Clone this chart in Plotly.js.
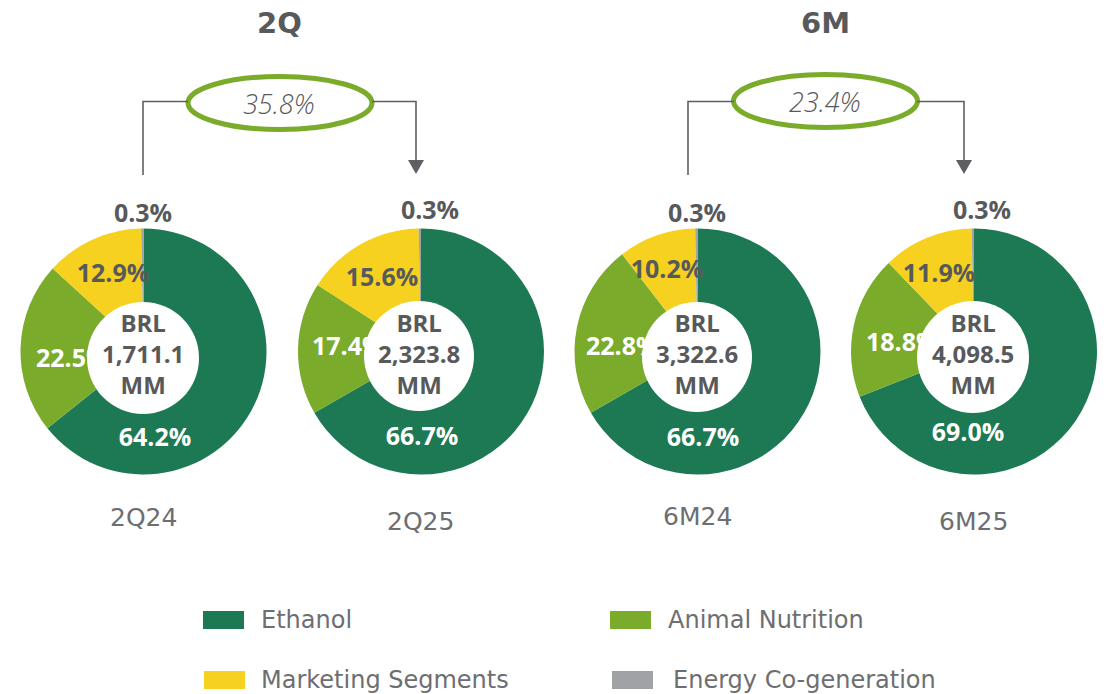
<!DOCTYPE html>
<html>
<head>
<meta charset="utf-8">
<script src="https://cdn.plot.ly/plotly-3.0.1.min.js"></script>
<style>
  html, body { margin: 0; padding: 0; background: #ffffff; }
  #chart { width: 1111px; height: 694px; }
</style>
</head>
<body>
<div id="chart"></div>
<script>
// ---------------- DATA ----------------
const categories = ['Ethanol', 'Animal Nutrition', 'Marketing Segments', 'Energy Co-generation'];
const periods = ['2Q24', '2Q25', '6M24', '6M25'];
const ethanolPct = [64.2, 66.7, 66.7, 69.0];
const animalNutritionPct = [22.5, 17.4, 22.8, 18.8];
const marketingPct = [12.9, 15.6, 10.2, 11.9];
const energyPct = [0.3, 0.3, 0.3, 0.3];
const totalsBRLmm = [1711.1, 2323.8, 3322.6, 4098.5];
const groupTitles = ['2Q', '6M'];
const growthPct = [35.8, 23.4];

// ---------------- STYLE / LAYOUT CONFIG ----------------
const W = 1111, H = 694;
const colors = ['#1d7954', '#7aab2b', '#f6d11f', '#a0a2a5'];
const labelColors = ['#ffffff', '#ffffff', '#58595b', '#58595b'];
const textGray = '#58595b';
const lightGray = '#6d6e71';
const BOLDFONT = '"Open Sans", "Noto Sans", sans-serif';
const REGFONT = '"DejaVu Sans", "Open Sans", sans-serif';

const px = x => x / W;
const py = y => 1 - y / H;

const donutCenters = [[143.5, 351.5], [421, 351.5], [697.5, 351.5], [974, 351.5]];
const donutR = 123;
const discs = [[143, 358, 56], [419, 356, 55], [697, 357, 55], [973, 357, 56]];
// label anchor per donut per category: [x, y, align]
const labelPos = [
  [[155, 436, 'center'], [36, 357, 'left'], [113, 272, 'center'], [143, 212, 'center']],
  [[422, 435, 'center'], [312, 345, 'left'], [382, 276, 'center'], [430, 209, 'center']],
  [[703, 436, 'center'], [586, 345, 'left'], [667, 268, 'center'], [697, 212, 'center']],
  [[968, 431, 'center'], [866, 341, 'left'], [939, 272, 'center'], [982, 209, 'center']]
];
const centerTextY = 353;
const periodLabelPos = [[143, 517], [420, 521], [697, 516], [973, 521]];
const titlePos = [[279, 23], [825, 23]];
const ovals = [[280, 103, 184, 53], [825.5, 101, 184, 53]];
// connectors: [leftX, bottomY, ovalLeftX, ovalRightX, rightX, lineY, arrowTopY, arrowTipY]
const connectors = [
  [143, 175, 188, 372, 416, 101.5, 160, 174],
  [688, 175, 734, 917, 964, 101.5, 160, 174]
];
const legendPos = [[203, 620], [610, 620], [204, 680], [612, 680]];
const legendTextX = [259, 666, 259, 671];

// ---------------- TRACES ----------------
const seriesByCat = [ethanolPct, animalNutritionPct, marketingPct, energyPct];
const traces = [];

periods.forEach((p, i) => {
  const [cx, cy] = donutCenters[i];
  traces.push({
    type: 'pie',
    labels: categories,
    values: seriesByCat.map(s => s[i]),
    marker: { colors: colors, line: { width: 0 } },
    sort: false,
    direction: 'clockwise',
    rotation: 0,
    textinfo: 'none',
    hoverinfo: 'skip',
    showlegend: false,
    domain: { x: [px(cx - donutR), px(cx + donutR)], y: [py(cy + donutR), py(cy - donutR)] }
  });
});

// percentage labels (indicator numbers sit between pie layer and the white centre discs)
periods.forEach((p, i) => {
  seriesByCat.forEach((s, k) => {
    const [lx, ly, al] = labelPos[i][k];
    const x0 = al === 'left' ? lx : lx - 60;
    const x1 = al === 'left' ? lx + 120 : lx + 60;
    traces.push({
      type: 'indicator',
      mode: 'number',
      value: s[i],
      align: al,
      number: {
        suffix: '%',
        valueformat: '.1f',
        font: { family: BOLDFONT, size: 25, color: labelColors[k], weight: 'bold' }
      },
      domain: { x: [px(x0), px(x1)], y: [py(ly + 16), py(ly - 16)] }
    });
  });
});

// ---------------- SHAPES ----------------
const shapes = [];
discs.forEach(([cx, cy, r]) => {
  shapes.push({
    type: 'circle', xref: 'paper', yref: 'paper', layer: 'above',
    x0: px(cx - r), x1: px(cx + r), y0: py(cy + r), y1: py(cy - r),
    fillcolor: '#ffffff', line: { width: 0 }
  });
});
ovals.forEach(([cx, cy, w, h]) => {
  shapes.push({
    type: 'circle', xref: 'paper', yref: 'paper', layer: 'above',
    x0: px(cx - w / 2), x1: px(cx + w / 2), y0: py(cy + h / 2), y1: py(cy - h / 2),
    fillcolor: 'rgba(0,0,0,0)', line: { color: '#7aab2b', width: 5 }
  });
});
connectors.forEach(([lx, by, oL, oR, rx, ly, aTop, aTip]) => {
  shapes.push({
    type: 'path', xref: 'paper', yref: 'paper', layer: 'above',
    path: `M${px(lx)},${py(by)} L${px(lx)},${py(ly)} L${px(oL)},${py(ly)}`,
    line: { color: '#5d5f62', width: 1.6 }
  });
  shapes.push({
    type: 'path', xref: 'paper', yref: 'paper', layer: 'above',
    path: `M${px(oR)},${py(ly)} L${px(rx)},${py(ly)} L${px(rx)},${py(aTop)}`,
    line: { color: '#5d5f62', width: 1.6 }
  });
  shapes.push({
    type: 'path', xref: 'paper', yref: 'paper', layer: 'above',
    path: `M${px(rx - 8)},${py(aTop)} L${px(rx + 8)},${py(aTop)} L${px(rx)},${py(aTip)} Z`,
    fillcolor: '#5d5f62', line: { width: 0 }
  });
});
categories.forEach((c, k) => {
  const [lx, ly] = legendPos[k];
  shapes.push({
    type: 'rect', xref: 'paper', yref: 'paper', layer: 'above',
    x0: px(lx), x1: px(lx + 41), y0: py(ly + 9), y1: py(ly - 9),
    fillcolor: colors[k], line: { width: 0 }
  });
});

// ---------------- ANNOTATIONS ----------------
const annotations = [];
const fmt = v => v.toLocaleString('en-US', { minimumFractionDigits: 1, maximumFractionDigits: 1 });
periods.forEach((p, i) => {
  const cx = discs[i][0];
  annotations.push({
    xref: 'paper', yref: 'paper', x: px(cx), y: py(centerTextY), xanchor: 'center', yanchor: 'middle',
    text: `<b>BRL<br>${fmt(totalsBRLmm[i])}<br>MM</b>`, showarrow: false, align: 'center',
    font: { family: BOLDFONT, size: 24, color: textGray }
  });
  const [tx, ty] = periodLabelPos[i];
  annotations.push({
    xref: 'paper', yref: 'paper', x: px(tx), y: py(ty), xanchor: 'center', yanchor: 'middle',
    text: p, showarrow: false,
    font: { family: REGFONT, size: 25, color: lightGray }
  });
});
groupTitles.forEach((t, g) => {
  const [tx, ty] = titlePos[g];
  annotations.push({
    xref: 'paper', yref: 'paper', x: px(tx), y: py(ty), xanchor: 'center', yanchor: 'middle',
    text: `<b>${t}</b>`, showarrow: false,
    font: { family: REGFONT, size: 29, color: textGray }
  });
  const [ox, oy] = ovals[g];
  annotations.push({
    xref: 'paper', yref: 'paper', x: px(ox - 1), y: py(oy), xanchor: 'center', yanchor: 'middle',
    text: `<i>${growthPct[g].toFixed(1)}%</i>`, showarrow: false,
    font: { family: BOLDFONT, size: 27, color: textGray, weight: 300 }
  });
});
categories.forEach((c, k) => {
  const ly = legendPos[k][1];
  annotations.push({
    xref: 'paper', yref: 'paper', x: px(legendTextX[k]), y: py(ly), xanchor: 'left', yanchor: 'middle',
    text: c, showarrow: false,
    font: { family: REGFONT, size: 24, color: lightGray }
  });
});

const layout = {
  width: W, height: H,
  margin: { l: 0, r: 0, t: 0, b: 0, pad: 0 },
  paper_bgcolor: '#ffffff', plot_bgcolor: '#ffffff',
  showlegend: false,
  shapes: shapes,
  annotations: annotations,
  font: { family: REGFONT }
};

Plotly.newPlot('chart', traces, layout, { displayModeBar: false, staticPlot: true });
</script>
</body>
</html>
